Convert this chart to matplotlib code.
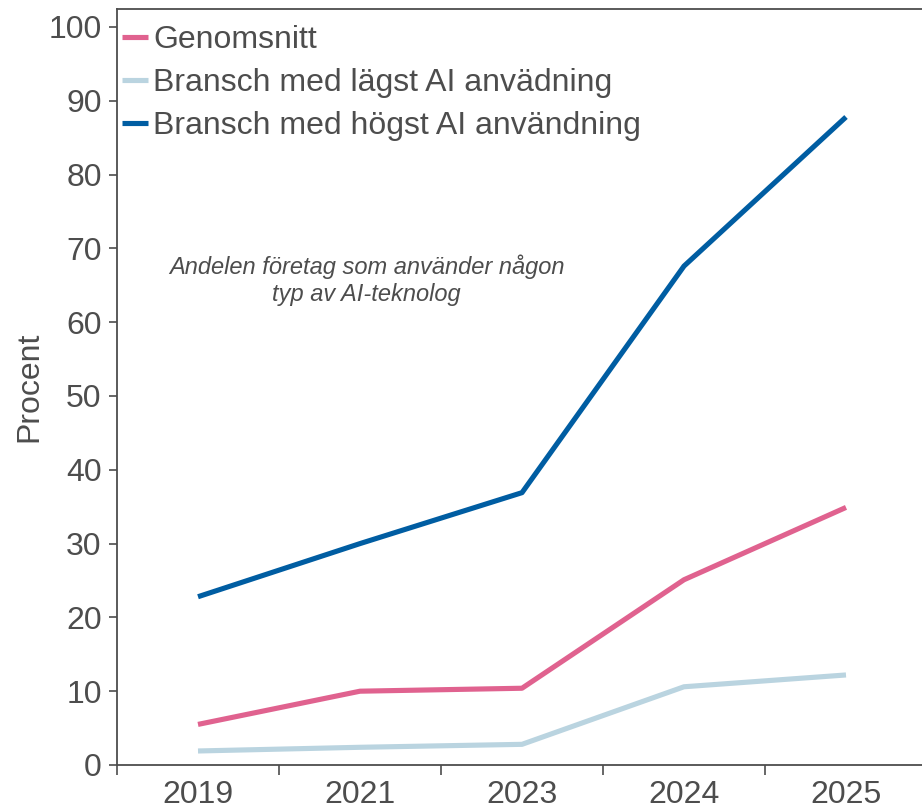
import matplotlib
matplotlib.use("Agg")
import matplotlib.pyplot as plt

plt.rcParams['font.family'] = ['Liberation Sans', 'DejaVu Sans']

# Data
years = ["2019", "2021", "2023", "2024", "2025"]
genomsnitt = [5.5, 10.0, 10.4, 25.1, 34.9]
lagst = [1.9, 2.4, 2.8, 10.6, 12.2]
hogst = [22.8, 30.0, 36.9, 67.6, 87.8]

series = [
    ("Genomsnitt", genomsnitt, "#e0628f"),
    ("Bransch med lägst AI anvädning", lagst, "#bad4e0"),
    ("Bransch med högst AI användning", hogst, "#005da2"),
]

GREY = "#4d4d4d"

fig = plt.figure(figsize=(9.22, 8.11), dpi=100)
# axes runs slightly past the right edge like the reference
ax = fig.add_axes([117 / 922, (811 - 765) / 811, 810 / 922, (765 - 8.5) / 811])

x = list(range(len(years)))
for label, vals, col in series:
    ax.plot(x, vals, color=col, linewidth=3.7, label=label, solid_capstyle='butt')

ax.set_xlim(-0.5, len(years) - 0.5)
ax.set_ylim(0, 102.5)

ax.set_yticks(range(0, 101, 10))
ax.set_xticks(x)
ax.set_xticklabels(years)
ax.set_xticks([i - 0.5 for i in range(len(years) + 1)], minor=True)
ax.tick_params(axis='x', which='major', length=0, pad=11, labelsize=23, labelcolor=GREY)
ax.tick_params(axis='x', which='minor', length=7, width=1.2, color=GREY, direction='out')
ax.tick_params(axis='y', length=6, width=1.2, color=GREY, pad=5, labelsize=23, labelcolor=GREY)

for side in ['left', 'bottom', 'top']:
    ax.spines[side].set_color(GREY)
    ax.spines[side].set_linewidth(1.3)
ax.spines['right'].set_visible(False)

ax.set_ylabel("Procent", fontsize=23, color=GREY, labelpad=3)

ax.text(1.04, 65.7, "Andelen företag som använder någon\ntyp av AI-teknolog",
        ha='center', va='center', fontsize=17, style='italic', color=GREY,
        linespacing=1.2)

leg = ax.legend(loc='upper left', bbox_to_anchor=(0.006, 0.978), frameon=False,
                fontsize=23, handlelength=0.82, handletextpad=0.17, labelspacing=0.41,
                borderaxespad=0.0, borderpad=0.0)
for t in leg.get_texts():
    t.set_color(GREY)

fig.savefig("out.png", dpi=100)
